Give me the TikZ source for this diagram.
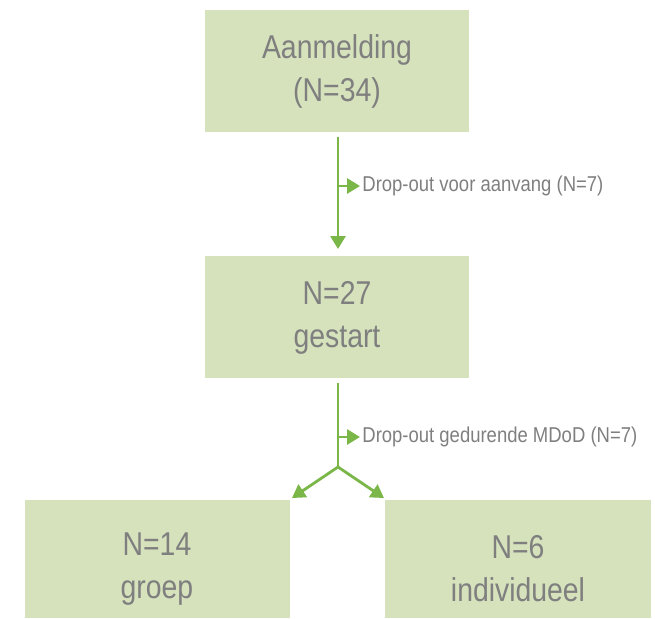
\documentclass[tikz,border=0pt]{standalone}
\usepackage{fontspec}
\setmainfont[FakeStretch=0.86]{Liberation Sans}
\usetikzlibrary{arrows.meta}
\definecolor{boxgreen}{HTML}{D5E2BC}
\definecolor{linegreen}{HTML}{7AB648}
\definecolor{txtgray}{HTML}{7F7F7F}
\tikzset{
  box/.style={fill=boxgreen, draw=none, text=txtgray, font=\fontsize{33}{43}\selectfont, align=center},
  lbl/.style={text=txtgray, font=\fontsize{21.5}{24}\selectfont, anchor=west, inner sep=1pt},
  conn/.style={draw=linegreen, line width=2.8pt, -{Triangle[width=15pt,length=13pt]}},
  stem/.style={draw=linegreen, line width=2.8pt}
}
\begin{document}
\begin{tikzpicture}[x=1pt,y=-1pt]
\useasboundingbox (0,0) rectangle (655,618);
\path[box] (205,10) rectangle (469,132);
\node[box, fill=none] (a) at (337,71) {Aanmelding\\(N=34)};
\path[box] (205,256) rectangle (469,378);
\node[box, fill=none] (b) at (337,318) {N=27\\gestart};
\path[box] (25,500) rectangle (290,618);
\node[box, fill=none] (c) at (157,569) {N=14\\groep};
\path[box] (385,500) rectangle (651,618);
\node[box, fill=none] (d) at (518,569) {N=6\\individueel};
\coordinate (t1) at (338,137);
\coordinate (e1) at (338,249);
\coordinate (s1) at (338,186);
\coordinate (t2) at (338,383);
\coordinate (s2) at (338,437);
\coordinate (j) at (338,467);
\coordinate (cl) at (292,498);
\coordinate (cr) at (384,498);
\draw[conn] (t1) -- (e1);
\draw[conn] (s1) -- ++(22,0) node[lbl] (l1) {Drop-out voor aanvang (N=7)};
\draw[stem] (t2) -- (j);
\draw[conn] (s2) -- ++(22,0) node[lbl] (l2) {Drop-out gedurende MDoD (N=7)};
\draw[conn] (j) -- (cl);
\draw[conn] (j) -- (cr);
\end{tikzpicture}
\end{document}
